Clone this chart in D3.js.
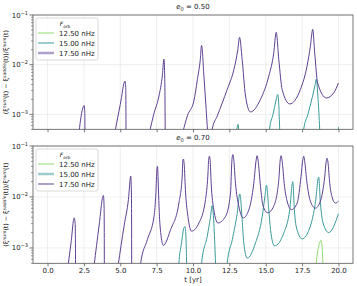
<!DOCTYPE html>
<html>
<head>
<meta charset="utf-8">
<script src="https://cdn.jsdelivr.net/npm/d3@7"></script>
<style>
  body { margin: 0; background: #fff; }
  text { font-family: "DejaVu Sans", sans-serif; }
</style>
</head>
<body>
<svg id="chart" width="357" height="286"></svg>
<script>
// values, [t in yr, relative difference]
const t_ticks = [0, 2.5, 5, 7.5, 10, 12.5, 15, 17.5, 20]
const y_major = [1e-3, 1e-2, 1e-1]
const freq_labels = ["12.50 nHz", "15.00 nHz", "17.50 nHz"]
const line_colors = ["#8edc6c", "#3b9a9b", "#5d4192"]
const eccentricities = ["0.50", "0.70"]

const e050_f1250 = []
const e050_f1500 = [[12.9,1e-4],[13.0,4.5e-4],[13.1,6.3e-4],[13.18,3e-4],[13.3,1e-4],[15.1,1e-4],[15.26,5e-4],
  [15.5,1e-3],[15.7,1.86e-3],[15.83,2.51e-3],[15.9,1.5e-3],[15.96,5e-4],[16.05,1e-4],[17.45,1e-4],[17.61,5e-4],
  [17.9,1e-3],[18.2,2.2e-3],[18.4,4.0e-3],[18.48,5.13e-3],[18.6,2e-3],[18.71,5e-4],[18.8,1e-4],[19.9,1e-4],[20.0,5.5e-4]]
const e050_f1750 = [
  [[2.17,4.5e-4],[2.3,8.9e-4],[2.45,1.41e-3],[2.51,1.51e-3],[2.56,1.12e-3],[2.58,1e-4]],
  [[4.64,4.5e-4],[5.0,1.58e-3],[5.33,4.68e-3],[5.38,3.16e-3],[5.40,1e-4]],
  [[7.02,4.5e-4],[7.3,1e-3],[7.66,2.34e-3],[7.9,6.3e-3],[8.0,1.29e-2],[8.06,5e-3],[8.1,1e-4]],
  [[9.31,4.5e-4],[9.61,9.3e-4],[10.06,1.86e-3],[10.3,5e-3],[10.5,1.26e-2],[10.59,2.45e-2],[10.75,5.89e-3],
   [10.89,1.48e-3],[11.02,4e-4],[11.17,2e-4],[11.32,5e-4],[11.67,9.3e-4],[12.35,3.16e-3],[12.81,7.94e-3],
   [13.08,2.0e-2],[13.2,3.55e-2],[13.38,1.26e-2],[13.61,2.34e-3],[13.95,1.12e-3],[14.64,2e-3],[15.21,5.89e-3],
   [15.55,1.70e-2],[15.72,4.47e-2],[15.9,1.26e-2],[16.13,3.16e-3],[16.65,1.62e-3],[17.38,3.16e-3],[17.84,9.33e-3],
   [18.07,2.34e-2],[18.23,5.13e-2],[18.37,1.70e-2],[18.57,4.27e-3],[19.17,2.14e-3],[19.67,2.69e-3],[20.0,4.27e-3]]
]

const e070_f1250 = [[18.35,1e-4],[18.48,5e-4],[18.65,1.1e-3],[18.8,1.41e-3],[18.88,1e-3],[18.94,4e-4],[19.0,1e-4]]
const e070_f1500 = [[8.9,1e-4],[9.03,5e-4],[9.2,1.2e-3],[9.38,2.5e-3],[9.45,2.63e-3],[9.52,1.5e-3],[9.56,5e-4],
  [9.62,1e-4],[10.45,1e-4],[10.59,5e-4],[10.98,1.7e-3],[11.2,4e-3],[11.32,6.76e-3],[11.45,2.5e-3],[11.55,5e-4],
  [11.65,1e-4],[12.15,1e-4],[12.35,5e-4],[12.7,1.45e-3],[13.04,4.79e-3],[13.22,1.15e-2],[13.38,3.63e-3],
  [13.49,1.26e-3],[13.73,6.3e-4],[14.3,1.26e-3],[14.76,4.17e-3],[14.94,1.0e-2],[15.05,1.7e-2],[15.21,5.62e-3],
  [15.33,2.29e-3],[15.6,1.1e-3],[16.24,1.95e-3],[16.65,5.62e-3],[16.86,2.0e-2],[16.97,5.62e-3],[17.09,2.69e-3],
  [17.5,1.51e-3],[18.07,2.69e-3],[18.41,7.59e-3],[18.64,2.45e-2],[18.76,7.59e-3],[18.94,3.09e-3],[19.33,2.0e-3],
  [20.0,4.68e-3]]
const e070_f1750 = [
  [[1.41,4.5e-4],[1.62,1.3e-3],[1.83,3.89e-3],[1.9,3.0e-3],[1.94,1e-4]],
  [[3.2,4.5e-4],[3.54,2.69e-3],[3.84,1.07e-2],[3.89,6e-3],[3.91,1e-4]],
  [[4.85,4.5e-4],[5.26,2.69e-3],[5.56,8.91e-3],[5.72,2.57e-2],[5.77,1e-2],[5.79,1e-4]],
  [[6.25,1e-4],[6.4,5e-4],[6.86,1.45e-3],[7.32,4.17e-3],[7.45,1.2e-2],[7.52,3.5e-2],[7.56,3.98e-2],[7.62,1.5e-2],
   [7.68,5.0e-3],[7.78,2e-3],[7.96,1.12e-3],[8.46,2.29e-3],[9.03,7.59e-3],[9.26,2.57e-2],[9.29,4.8e-2],[9.34,5.56e-2],
   [9.39,4.5e-2],[9.49,1.2e-2],[9.65,4.17e-3],[9.9,2.14e-3],[10.41,3.09e-3],[10.86,8.91e-3],[11.02,2.57e-2],
   [11.08,5.5e-2],[11.13,6.31e-2],[11.18,5.2e-2],[11.25,1.86e-2],[11.43,5.62e-3],[11.71,3.09e-3],[12.24,4.17e-3],
   [12.58,1.2e-2],[12.68,5.5e-2],[12.74,6.76e-2],[12.8,5.5e-2],[12.92,1.86e-2],[13.15,6.61e-3],[13.45,3.89e-3],
   [13.84,5.62e-3],[14.18,1.86e-2],[14.35,5.5e-2],[14.41,6.46e-2],[14.47,5.3e-2],[14.64,1.62e-2],[14.82,6.61e-3],
   [15.14,4.9e-3],[15.55,6.61e-3],[15.9,2.19e-2],[16.0,5.5e-2],[16.06,6.46e-2],[16.12,5.3e-2],[16.29,1.62e-2],
   [16.47,8.32e-3],[16.77,5.62e-3],[17.16,7.59e-3],[17.43,2.57e-2],[17.55,5.4e-2],[17.61,6.31e-2],[17.67,5.2e-2],
   [17.84,1.86e-2],[18.07,8.32e-3],[18.41,6.03e-3],[18.76,8.32e-3],[19.06,2.57e-2],[19.16,5e-2],[19.22,5.75e-2],
   [19.28,4.8e-2],[19.4,1.86e-2],[19.58,9.55e-3],[19.79,7.59e-3],[20.0,8.32e-3]]
]

const panels = [
  { ecc: eccentricities[0], top: 15, bottom: 129.3, series: [[e050_f1250], [e050_f1500], e050_f1750], thick: 2 },
  { ecc: eccentricities[1], top: 146, bottom: 263.3, series: [[e070_f1250], [e070_f1500], e070_f1750], thick: 1 }
]

const svg = d3.select("#chart")
const left = 33, right = 353
const x = d3.scaleLinear().domain([-1, 21]).range([left, right])
const grid_color = "#ebebeb"
const spine_color = "#555"

panels.forEach((p, pi) => {
  const y = d3.scaleLog().domain([5e-4, 1e-1]).range([p.bottom, p.top])
  const g = svg.append("g")

  // grid
  g.selectAll(".vgrid").data(t_ticks).join("line")
    .attr("x1", d => x(d)).attr("x2", d => x(d))
    .attr("y1", p.top).attr("y2", p.bottom)
    .attr("stroke", grid_color).attr("stroke-width", 0.8)
  g.selectAll(".hgrid").data(y_major).join("line")
    .attr("x1", left).attr("x2", right)
    .attr("y1", d => y(d)).attr("y2", d => y(d))
    .attr("stroke", grid_color).attr("stroke-width", 0.8)

  // lines
  svg.append("clipPath").attr("id", "clip" + pi)
    .append("rect").attr("x", left).attr("y", p.top)
    .attr("width", right - left).attr("height", p.bottom - p.top)
  const line = d3.line().x(d => x(d[0])).y(d => y(d[1])).curve(d3.curveMonotoneX)
  const lg = g.append("g").attr("clip-path", `url(#clip${pi})`)
  p.series.forEach((segs, si) => {
    segs.filter(s => s.length).forEach(s => {
      lg.append("path").attr("d", line(s))
        .attr("fill", "none").attr("stroke", line_colors[si])
        .attr("stroke-width", 1).attr("stroke-linejoin", "round")
    })
  })

  // frame
  g.append("rect").attr("x", left).attr("y", p.top)
    .attr("width", right - left).attr("height", p.bottom - p.top)
    .attr("fill", "none").attr("stroke", spine_color).attr("stroke-width", 0.8)

  // x axis
  const xa = g.append("g").attr("transform", `translate(0,${p.bottom})`)
    .call(d3.axisBottom(x).tickValues(t_ticks).tickSize(3).tickPadding(2)
      .tickFormat(pi === 1 ? d3.format(".1f") : () => ""))
  xa.select(".domain").remove()
  xa.selectAll("line").attr("stroke", spine_color).attr("stroke-width", 0.8)
  xa.selectAll("text").attr("font-size", 7).attr("fill", "#222")

  // y axis, major + minor
  const minor = []
  for (let k = -4; k <= -2; k++) for (let m = 2; m <= 9; m++) {
    const v = m * Math.pow(10, k)
    if (v >= 5e-4 && v <= 1e-1) minor.push(v)
  }
  g.selectAll(".minor").data(minor).join("line")
    .attr("x1", left - 2).attr("x2", left)
    .attr("y1", d => y(d)).attr("y2", d => y(d))
    .attr("stroke", spine_color).attr("stroke-width", 0.6)
  g.selectAll(".major").data(y_major).join("line")
    .attr("x1", left - 3.5).attr("x2", left)
    .attr("y1", d => y(d)).attr("y2", d => y(d))
    .attr("stroke", spine_color).attr("stroke-width", 0.8)
  const yl = g.selectAll(".ylab").data(y_major).join("text")
    .attr("x", left - 5).attr("y", d => y(d) + 2.5)
    .attr("text-anchor", "end").attr("font-size", 7).attr("fill", "#222")
  yl.append("tspan").text("10")
  yl.append("tspan").attr("dy", -3).attr("font-size", 5).text(d => "\u2212" + (-Math.round(Math.log10(d))))

  // title
  const tt = g.append("text").attr("x", (left + right) / 2).attr("y", p.top - 6)
    .attr("text-anchor", "middle").attr("font-size", 7).attr("fill", "#222")
  tt.append("tspan").attr("font-style", "italic").text("e")
  tt.append("tspan").attr("dy", 1.5).attr("font-size", 5).text("0")
  tt.append("tspan").attr("dy", -1.5).text(" = " + p.ecc)

  // y label
  const cy = (p.top + p.bottom) / 2
  const yt = g.append("text").attr("transform", `translate(8,${cy}) rotate(-90)`)
    .attr("text-anchor", "middle").attr("font-size", 6.3).attr("fill", "#222")
  const parts = [["(", "ξ", "num", "(t) \u2212 "], ["", "ξ", "saddle", "(t))/"], ["", "ξ", "num", "(t)"]]
  parts.forEach(q => {
    yt.append("tspan").text(q[0] + q[1])
    yt.append("tspan").attr("dy", -2.5).attr("font-size", 4.5).attr("font-style", "italic").text(q[2])
    yt.append("tspan").attr("dy", 2.5).text(q[3])
  })

  // legend
  const lx = 36, ly = p.top + 3
  const leg = g.append("g")
  leg.append("rect").attr("x", lx).attr("y", ly).attr("width", 62).attr("height", 42)
    .attr("rx", 2).attr("fill", "white").attr("fill-opacity", 0.85)
    .attr("stroke", "#d0d0d0").attr("stroke-width", 0.8)
  const lt = leg.append("text").attr("x", lx + 29).attr("y", ly + 8)
    .attr("text-anchor", "middle").attr("font-size", 6).attr("fill", "#222")
  lt.append("tspan").attr("font-style", "italic").text("F")
  lt.append("tspan").attr("dy", 1.5).attr("font-size", 4.3).text("orb")
  freq_labels.forEach((f, i) => {
    const yy = ly + 15 + i * 10
    const thick = i === p.thick
    leg.append("line").attr("x1", lx + 2).attr("x2", lx + 18).attr("y1", yy).attr("y2", yy)
      .attr("stroke", line_colors[i]).attr("stroke-width", thick ? 2.5 : 1)
      .attr("stroke-opacity", thick ? 0.5 : 1)
    leg.append("text").attr("x", lx + 23).attr("y", yy + 2.5)
      .attr("font-size", 7).attr("fill", "#222").text(f)
  })
})

svg.append("text").attr("x", (left + right) / 2).attr("y", 282)
  .attr("text-anchor", "middle").attr("font-size", 7).attr("fill", "#222")
  .text("t [yr]")
</script>
</body>
</html>
